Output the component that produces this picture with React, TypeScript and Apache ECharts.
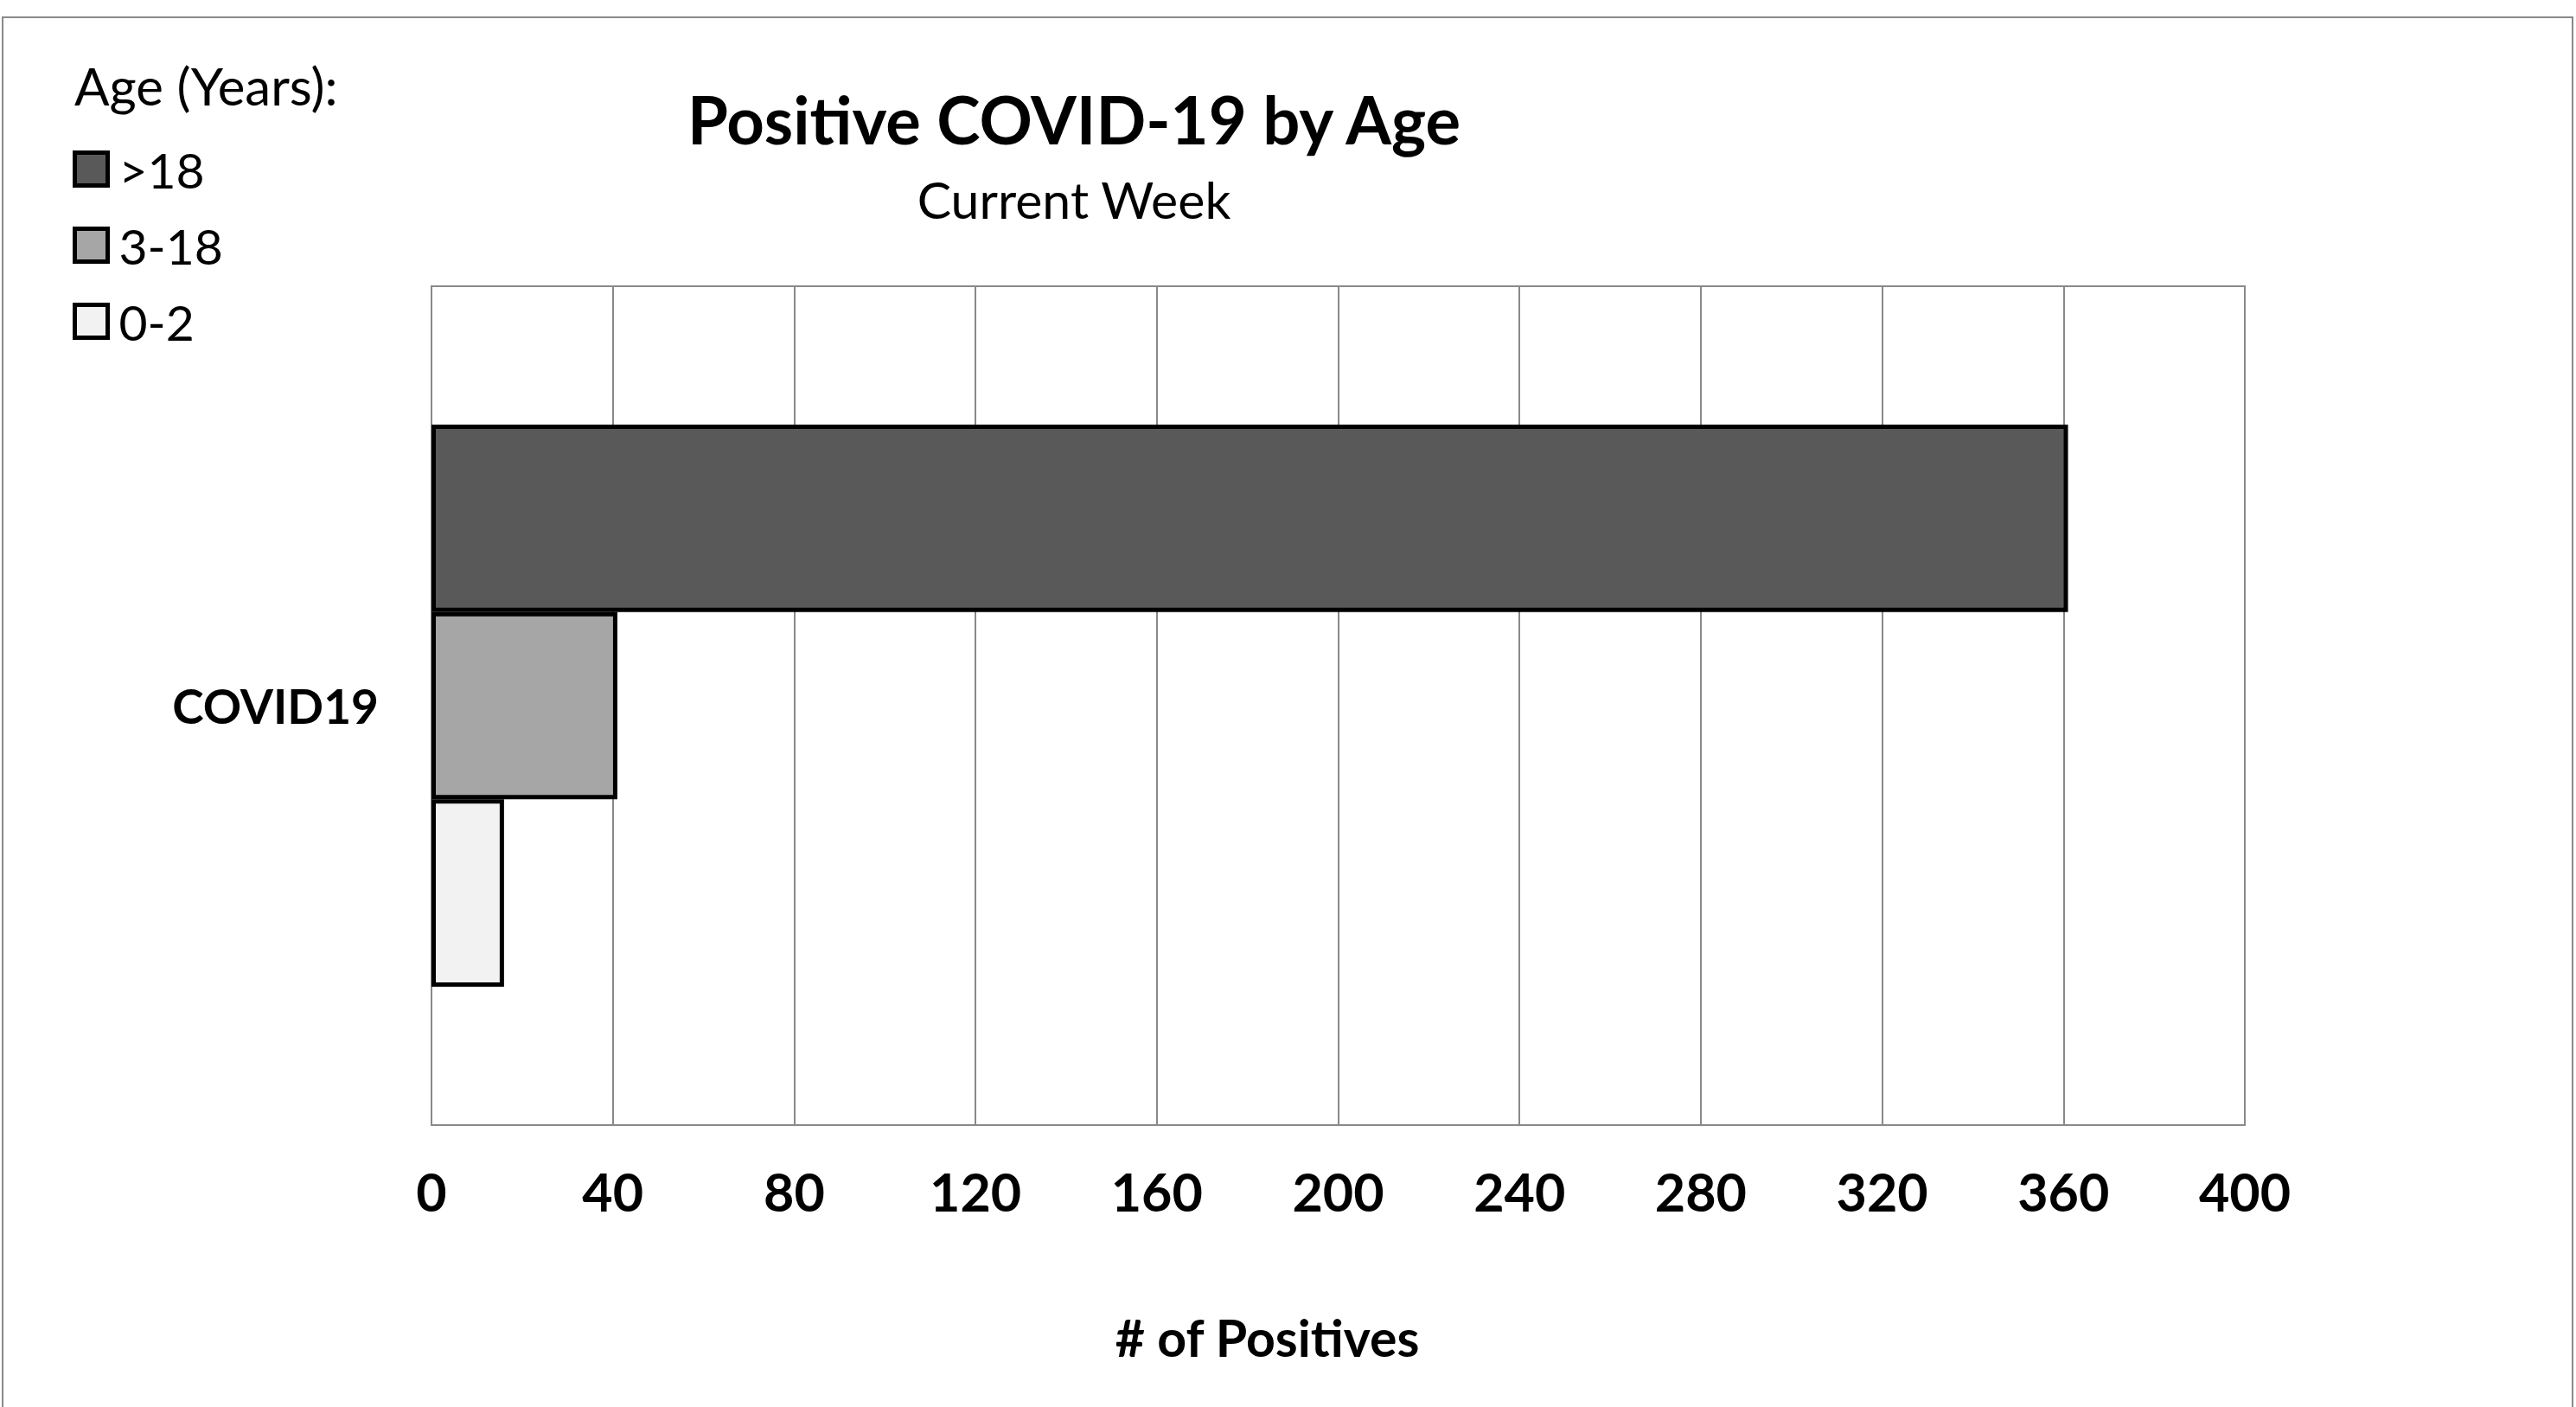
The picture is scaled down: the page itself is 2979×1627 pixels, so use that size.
import React, { useEffect, useRef } from "react";
import * as echarts from "echarts";

const categories = ["COVID19"];
const seriesNames = [">18", "3-18", "0-2"];
const seriesValues = [[361], [41], [16]];
const seriesColors = ["#595959", "#a6a6a6", "#f2f2f2"];
const legendOrder = [">18", "3-18", "0-2"];
const xMin = 0;
const xMax = 400;
const xInterval = 40;

const FONT = "Lato";

export default function App() {
  const ref = useRef<HTMLDivElement>(null);
  useEffect(() => {
    if (!ref.current) return;
    const chart = echarts.init(ref.current, null, { renderer: "svg" });
    const option: any = {
      animation: false,
      backgroundColor: "#ffffff",
      textStyle: { fontFamily: FONT },
      grid: {
        left: 499,
        right: 383,
        top: 331,
        bottom: 326,
        show: true,
        borderColor: "#898989",
        borderWidth: 2,
        containLabel: false,
      },
      legend: {
        data: legendOrder,
        orient: "vertical",
        left: 84,
        top: 167,
        padding: 0,
        itemWidth: 38,
        itemHeight: 38,
        itemGap: 31,
        icon: "rect",
        itemStyle: { borderColor: "#000", borderWidth: 5 },
        textStyle: { fontFamily: FONT, fontSize: 57, color: "#000", padding: [0, 0, 0, 8] },
        selectedMode: false,
      },
      xAxis: {
        type: "value",
        min: xMin,
        max: xMax,
        interval: xInterval,
        name: "# of Positives",
        nameLocation: "middle",
        nameGap: 216,
        nameTextStyle: { fontFamily: FONT, fontSize: 59, fontWeight: "bold", color: "#000", padding: [0, 164, 0, 0] },
        axisLine: { show: false },
        axisTick: { show: false },
        axisLabel: { fontFamily: FONT, fontSize: 61, fontWeight: "bold", color: "#000", margin: 46 },
        splitLine: { show: true, lineStyle: { color: "#898989", width: 2 } },
      },
      yAxis: {
        type: "category",
        data: categories,
        axisLine: { show: true, lineStyle: { color: "#898989", width: 2 } },
        axisTick: { show: false },
        axisLabel: { fontFamily: FONT, fontSize: 55, fontWeight: "bold", color: "#000", margin: 61 },
      },
      graphic: [
        {
          type: "rect",
          shape: { x: 3, y: 20, width: 2972, height: 1640 },
          style: { fill: "none", stroke: "#898989", lineWidth: 2 },
          silent: true,
        },
        {
          type: "text",
          x: 86,
          y: 99,
          style: { text: "Age (Years):", fontFamily: FONT, fontSize: 60, fill: "#000", align: "left", verticalAlign: "middle" },
        },
        {
          type: "text",
          x: 1242,
          y: 137,
          style: { text: "Positive COVID-19 by Age", fontFamily: FONT, fontSize: 76, fontWeight: "bold", fill: "#000", align: "center", verticalAlign: "middle" },
        },
        {
          type: "text",
          x: 1242,
          y: 230,
          style: { text: "Current Week", fontFamily: FONT, fontSize: 59, fill: "#000", align: "center", verticalAlign: "middle" },
        },
      ],
      series: seriesNames.map((name, i) => ({
        name,
        type: "bar",
        data: seriesValues[i],
        barGap: "0%",
        barCategoryGap: "33%",
        itemStyle: { color: seriesColors[i], borderColor: "#000", borderWidth: 5 },
      })),
    };
    chart.setOption(option);
    return () => chart.dispose();
  }, []);
  return (
    <div
      ref={ref}
      style={{ position: "fixed", left: 0, top: 0, width: 2979, height: 1627, background: "#fff" }}
    />
  );
}
